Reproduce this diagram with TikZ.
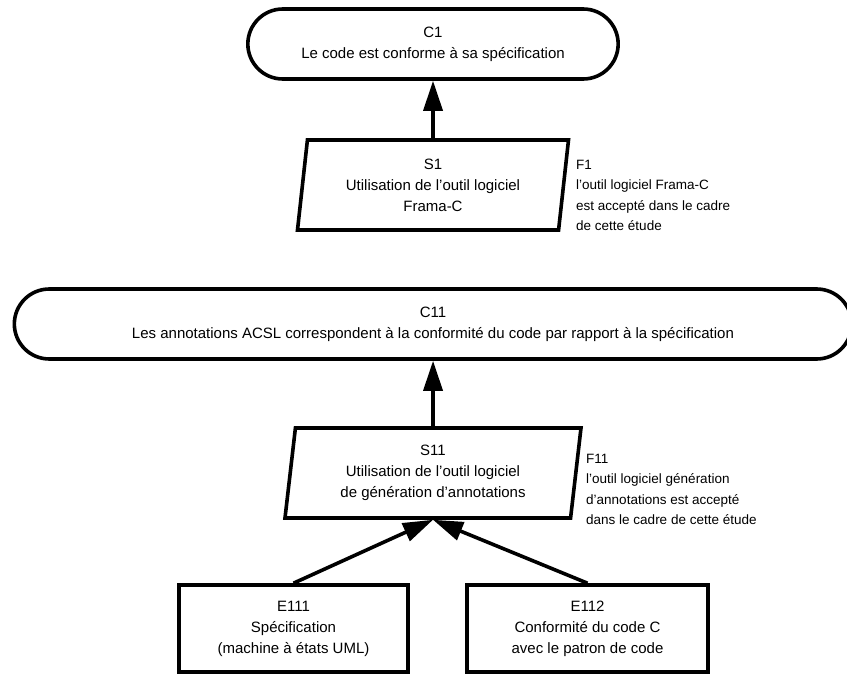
\documentclass[tikz,border=0pt]{standalone}
\usepackage{fontspec}
\setmainfont{Liberation Sans}
\usetikzlibrary{arrows.meta,positioning,shapes.geometric,shapes.misc}

\tikzset{
  claim/.style={rounded rectangle,draw,line width=3.6pt,align=center,
    font=\fontsize{15}{21}\selectfont,minimum height=70pt},
  strategy/.style={trapezium,trapezium left angle=80.5,trapezium right angle=99.5,
    trapezium stretches body,draw,line width=3.6pt,align=center,
    font=\fontsize{15}{21}\selectfont,minimum height=90pt},
  evidence/.style={rectangle,draw,line width=3.6pt,align=center,
    font=\fontsize{15}{21}\selectfont,minimum height=87pt},
  context/.style={align=left,font=\fontsize{13.5}{20.2}\selectfont,inner sep=0pt,anchor=north west}
}

\begin{document}
\begin{tikzpicture}[on grid,>={Triangle[length=30pt,width=19pt]}]
   \useasboundingbox (0,0) rectangle (847pt,-674pt);
   \node[claim,minimum width=844pt] (C11) at (433pt,-324pt)
      {C11\\Les annotations ACSL correspondent à la conformité du code par rapport à la spécification};
   \node[strategy,minimum width=271pt] (S1) [above=139pt of C11]
      {S1\\Utilisation de l’outil logiciel\\Frama-C};
   \node[claim,minimum width=377pt] (C1) [above=141pt of S1]
      {C1\\Le code est conforme à sa spécification};
   \node[strategy,minimum width=296pt] (S11) [below=149pt of C11]
      {S11\\Utilisation de l’outil logiciel\\de génération d’annotations};
   \node[evidence,minimum width=229pt] (E111) [below left=155.5pt and 139.5pt of S11]
      {E111\\Spécification\\(machine à états UML)};
   \node[evidence,minimum width=241pt] (E112) [below right=155.5pt and 154.5pt of S11]
      {E112\\Conformité du code C\\avec le patron de code};
   % contextes
   \node[context] (F1) at ([xshift=5.5pt,yshift=-22pt]S1.top right corner)
      {F1\\l’outil logiciel Frama-C\\est accepté dans le cadre\\de cette étude};
   \node[context] (F11) at ([xshift=3pt,yshift=-28pt]S11.top right corner)
      {F11\\l’outil logiciel génération\\d’annotations est accepté\\dans le cadre de cette étude};
    \path[->,line width=3.6pt]
    (S1) edge (C1)
    (S11) edge (C11)
    (E111.north) edge (S11.south)
    (E112.north) edge (S11.south);
\end{tikzpicture}
\end{document}
